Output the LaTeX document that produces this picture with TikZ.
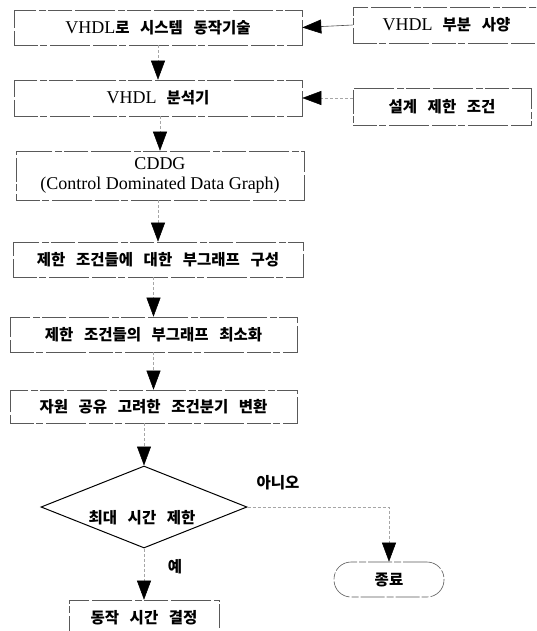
\documentclass[tikz,border=0pt]{standalone}
\usepackage{fontspec}
\setmainfont{Liberation Serif}
\newfontfamily\kr{Noto Sans CJK KR}[WordSpace=3]
\usetikzlibrary{arrows.meta,shapes.geometric,calc}

% Hangul in bold sans, Latin in serif
\newcommand\ko[1]{{\kr\bfseries\fontsize{15.5}{18}\selectfont #1}}
\newcommand\la[1]{{\fontsize{18}{20}\selectfont #1}}

\tikzset{
  stepbox/.style={draw=black!65, line width=0.6pt,
    dash pattern=on 24pt off 2pt on 7pt off 3pt on 40pt off 3pt,
    rectangle, inner sep=0pt, align=center},
  decision/.style={draw=black, line width=1pt, diamond, inner sep=0pt,
    aspect=2.5, minimum width=206pt, minimum height=82pt},
  terminal/.style={draw=black!65, line width=0.6pt,
    dash pattern=on 24pt off 2pt on 7pt off 2pt,
    rectangle, rounded corners=17pt, minimum width=110pt, minimum height=35pt},
  flow/.style={draw=black!35, line width=0.5pt, dash pattern=on 3pt off 2pt,
    -{Triangle[width=14pt,length=19pt,color=black]}},
  feed/.style={draw=black!70, line width=0.6pt,
    -{Triangle[width=14pt,length=19pt,color=black]}},
  tag/.style={inner sep=0pt}
}

\begin{document}
\begin{tikzpicture}[x=1pt,y=-1pt]
\useasboundingbox (0,0) rectangle (536,631);
\clip (0,0) rectangle (536,631);

% main flow boxes
\node[stepbox, minimum width=288pt, minimum height=35pt] (b1) at (158,27.5)
  {\la{VHDL}\ko{로 시스템 동작기술}};
\node[stepbox, minimum width=288pt, minimum height=36pt] (b2) at (158,98)
  {\la{VHDL}\hspace{10pt}\ko{분석기}};
\node[stepbox, minimum width=288pt, minimum height=49pt,
      font=\fontsize{18}{20}\selectfont] (b3) at (160,175.5)
  {CDDG\\(Control Dominated Data Graph)};
\node[stepbox, minimum width=290pt, minimum height=35pt] (b4) at (158,259.5)
  {\ko{제한 조건들에 대한 부그래프 구성}};
\node[stepbox, minimum width=287pt, minimum height=35pt] (b5) at (153.5,334.5)
  {\ko{제한 조건들의 부그래프 최소화}};
\node[stepbox, minimum width=287pt, minimum height=33pt] (b6) at (153.5,406.5)
  {\ko{자원 공유 고려한 조건분기 변환}};

% side inputs
\node[stepbox, minimum width=187pt, minimum height=36pt] (r1) at (446.5,25)
  {\la{VHDL}\hspace{10pt}\ko{부분 사양}};
\node[stepbox, minimum width=178pt, minimum height=37pt] (r2) at (442,106.5)
  {\ko{설계 제한 조건}};

% decision and outcomes
\node[decision] (d) at (144,507) {};
\node[tag] (dtext) at (142,518) {\ko{최대 시간 제한}};
\node[stepbox, minimum width=150pt, minimum height=36pt] (b7) at (144,618)
  {\ko{동작 시간 결정}};
\node[terminal] (fin) at (389,579.5) {\ko{종료}};

\node[tag] (no) at (278,483) {\ko{아니오}};
\node[tag] (yes) at (175,567) {\ko{예}};

% connectors
\draw[feed] (r1.west) -- (b1.east);
\draw[flow] (r2.west |- b2.east) -- (b2.east);
\draw[flow] (b1.south) -- (b2.north);
\draw[flow] (b3.north |- b2.south) -- (b3.north);
\draw[flow] (b4.north |- b3.south) -- (b4.north);
\draw[flow] (b5.north |- b4.south) -- (b5.north);
\draw[flow] (b5.south) -- (b6.north);
\draw[flow] (d.north |- b6.south) -- (d.north);
\draw[flow] (d.south) -- (b7.north);
\draw[flow] (d.east) -| (fin.north);
\end{tikzpicture}
\end{document}
